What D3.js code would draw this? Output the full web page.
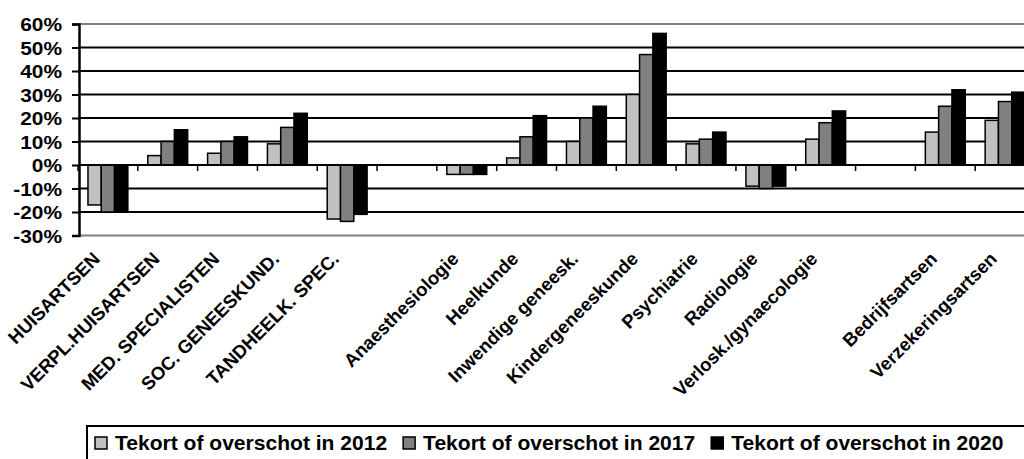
<!DOCTYPE html>
<html>
<head>
<meta charset="utf-8">
<script src="https://cdn.jsdelivr.net/npm/d3@7"></script>
<style>
  html, body { margin: 0; padding: 0; background: #fff; }
  svg { display: block; font-family: "Liberation Sans", Arial, sans-serif; font-weight: bold; }
</style>
</head>
<body>
<svg id="chart" width="1024" height="459"></svg>
<script>
// Beroepsgroepen (lege strings zijn scheidingskolommen)
const categories = [
  "HUISARTSEN", "VERPL.HUISARTSEN", "MED. SPECIALISTEN", "SOC. GENEESKUND.", "TANDHEELK. SPEC.",
  "", "Anaesthesiologie", "Heelkunde", "Inwendige geneesk.", "Kindergeneeskunde",
  "Psychiatrie", "Radiologie", "Verlosk./gynaecologie", "", "Bedrijfsartsen", "Verzekeringsartsen"
];
const seriesNames = ["Tekort of overschot in 2012", "Tekort of overschot in 2017", "Tekort of overschot in 2020"];
// Tekort (-) of overschot (+) in procenten
const values2012 = [-17, 4, 5, 9, -23, null, -4, 3, 10, 30, 9, -9, 11, null, 14, 19];
const values2017 = [-20, 10, 10, 16, -24, null, -4, 12, 20, 47, 11, -10, 18, null, 25, 27];
const values2020 = [-20, 15, 12, 22, -21, null, -4, 21, 25, 56, 14, -9, 23, null, 32, 31];
const yTicks = [60, 50, 40, 30, 20, 10, 0, -10, -20, -30];
const seriesColors = ["#c0c0c0", "#808080", "#000000"];

const svg = d3.select("#chart");

const x = d3.scaleBand().domain(d3.range(categories.length)).range([78, 1035]).padding(0);
const bw = x.bandwidth() / 4.5;
const xs = d3.scaleBand().domain([0, 1, 2])
  .range([bw * 0.75, bw * 3.75]).padding(0);
const y = d3.scaleLinear().domain([-30, 60]).range([235.5, 24]);

// Horizontale rasterlijnen
svg.append("g").selectAll("line").data(yTicks).join("line")
  .attr("x1", 78).attr("x2", 1024)
  .attr("y1", d => y(d)).attr("y2", d => y(d))
  .attr("stroke", d => (d === 60 || d === -30) ? "#808080" : "#000")
  .attr("stroke-width", 2);

// Staven
const series = [values2012, values2017, values2020];
const rows = [];
series.forEach((vals, s) => vals.forEach((v, i) => { if (v !== null) rows.push({ s, i, v }); }));
svg.append("g").selectAll("rect").data(rows).join("rect")
  .attr("x", d => x(d.i) + xs(d.s))
  .attr("width", xs.bandwidth())
  .attr("y", d => Math.min(y(d.v), y(0)))
  .attr("height", d => Math.abs(y(d.v) - y(0)))
  .attr("fill", d => seriesColors[d.s])
  .attr("stroke", "#000")
  .attr("stroke-width", 1.5);

// Nullijn met streepjes tussen de categorieën
svg.append("line").attr("x1", 78).attr("x2", 1024).attr("y1", y(0)).attr("y2", y(0))
  .attr("stroke", "#000").attr("stroke-width", 2);
svg.append("g").selectAll("line").data(d3.range(categories.length + 1)).join("line")
  .attr("x1", i => 78 + i * x.step()).attr("x2", i => 78 + i * x.step())
  .attr("y1", y(0)).attr("y2", y(0) + 6)
  .attr("stroke", "#000").attr("stroke-width", 1.5);

// Y-as
const yAxis = d3.axisLeft(y).tickValues(yTicks).tickSize(7).tickFormat(d => d + "%");
const gy = svg.append("g").attr("transform", "translate(79,0)").call(yAxis);
gy.select(".domain").attr("stroke", "#000").attr("stroke-width", 2.5);
gy.selectAll(".tick line").attr("stroke", "#000").attr("stroke-width", 2);
gy.selectAll(".tick text")
  .attr("x", 0).attr("dy", "0.36em")
  .attr("transform", "translate(-17,0) scale(1.1,1)")
  .attr("fill", "#000")
  .style("font-family", "'Liberation Sans', Arial, sans-serif")
  .style("font-weight", "bold")
  .style("font-size", "19px");

// Categorielabels, 45 graden gedraaid
svg.append("g").selectAll("text").data(categories.map((c, i) => ({ c, i })).filter(d => d.c)).join("text")
  .attr("transform", d => `translate(${x(d.i) + x.bandwidth() / 2 - 7},260) rotate(-45)`)
  .attr("text-anchor", "end")
  .attr("font-size", "18.5px")
  .attr("fill", "#000")
  .text(d => d.c);

// Legenda
const lg = svg.append("g");
lg.append("rect").attr("x", 87).attr("y", 426).attr("width", 1000).attr("height", 60)
  .attr("fill", "#fff").attr("stroke", "#000").attr("stroke-width", 2);
let cx = 95;
seriesNames.forEach((name, s) => {
  lg.append("rect").attr("x", cx).attr("y", 437).attr("width", 12).attr("height", 12)
    .attr("fill", seriesColors[s]).attr("stroke", "#000").attr("stroke-width", 1.5);
  const t = lg.append("text")
    .attr("transform", `translate(${cx + 20},450) scale(1.08,1)`)
    .attr("font-size", "19.5px").attr("fill", "#000").text(name);
  cx += 20 + t.node().getComputedTextLength() * 1.08 + 16;
});
</script>
</body>
</html>
